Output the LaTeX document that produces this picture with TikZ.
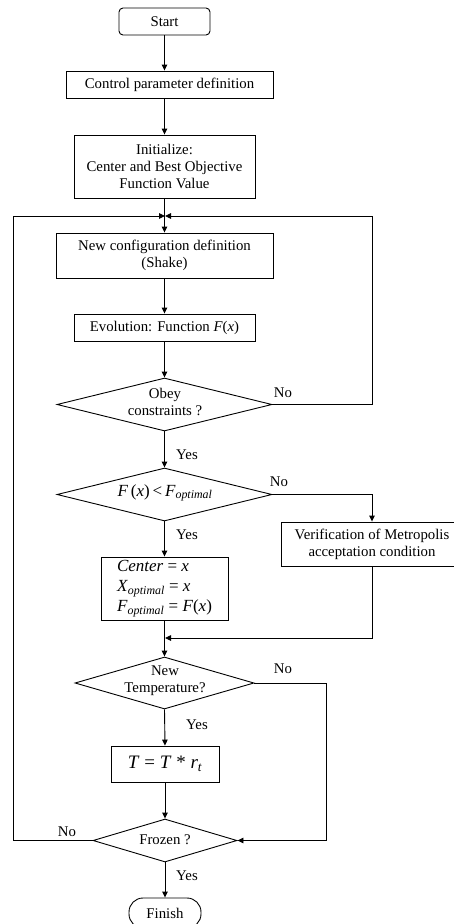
\documentclass[tikz,border=0pt]{standalone}
\usepackage{fontspec}
\setmainfont{Liberation Serif}
\usetikzlibrary{arrows.meta,shapes.geometric}
\begin{document}
\begin{tikzpicture}[x=1pt,y=-1pt,
  font=\fontsize{14.8}{17}\selectfont,
  line width=0.9pt,
  box/.style={draw, rectangle, inner sep=0pt, align=center},
  dia/.style={draw, diamond, inner sep=0pt},
  txt/.style={inner sep=0pt, align=center},
  lab/.style={inner sep=0pt},
  arr/.style={-{Triangle[length=6pt,width=5.5pt]}},
  mth/.style={font=\fontsize{17}{20}\selectfont},
]
\useasboundingbox (0,0) rectangle (453,924);
% nodes
\node[box, rounded corners=4pt, minimum width=91pt, minimum height=27pt] (start) at (164.5,21.5) {Start};
\node[box, minimum width=207pt, minimum height=27pt] (ctrl) at (169.5,84.5) {Control parameter definition};
\node[box, minimum width=181pt, minimum height=63pt] (init) at (164.5,166.5) {Initialize:\\Center and Best Objective\\Function Value};
\coordinate (j1) at (165,216);
\coordinate (lt) at (13,216);
\coordinate (rt) at (372,216);
\node[box, minimum width=217pt, minimum height=45pt] (conf) at (164.5,255.5) {New configuration definition\\(Shake)};
\node[box, minimum width=181pt, minimum height=27pt] (evo) at (164.5,327.5) {Evolution: Function \textit{F}(\textit{x})};
\node[dia, minimum width=215pt, minimum height=53pt] (obey) at (164.5,404.5) {};
\node[txt] (obeyt) at (165,402) {Obey\\constraints ?};
\node[dia, minimum width=215pt, minimum height=53pt] (fdia) at (164.5,494.5) {};
\node[txt, mth] (fdiat) at (165,493) {\textit{F}\,(\textit{x})\,<\,\textit{F}\textsubscript{\itshape optimal}};
\node[box, minimum width=182pt, minimum height=44pt] (verif) at (372,544) {Verification of Metropolis\\acceptation condition};
\node[box, mth, align=left, minimum width=127pt, minimum height=63pt] (cbox) at (164.5,588.5) {\textit{Center} = \textit{x}\\\textit{X}\textsubscript{\itshape optimal} = \textit{x}\\\textit{F}\textsubscript{\itshape optimal} = \textit{F}(\textit{x})};
\coordinate (j2) at (165,638);
\node[dia, minimum width=179pt, minimum height=52pt] (nt) at (164.5,683) {};
\node[txt] (ntt) at (165,681) {New\\Temperature?};
\coordinate (nr) at (326,683);
\node[box, minimum width=108pt, minimum height=36pt, font=\fontsize{19}{22}\selectfont] (tbox) at (165,764) {\textit{T} = \textit{T} * \textit{r\textsubscript{t}}};
\node[dia, minimum width=144pt, minimum height=43pt] (frozen) at (165,840.5) {};
\node[txt] (frozent) at (165,840) {Frozen ?};
\node[box, rounded corners=14pt, minimum width=72pt, minimum height=30pt] (finish) at (165,913) {Finish};
% labels
\node[lab] (l1) at (283,393) {No};
\node[lab] (l2) at (187,455) {Yes};
\node[lab] (l3) at (279,482) {No};
\node[lab] (l4) at (187,535) {Yes};
\node[lab] (l5) at (283,669) {No};
\node[lab] (l6) at (197,725) {Yes};
\node[lab] (l7) at (67,832) {No};
\node[lab] (l8) at (187,876) {Yes};
% connectors
\draw[arr] (start.south) -- (start.south |- ctrl.north);
\draw[arr] (start.south |- ctrl.south) -- (init.north);
\draw[arr] (init.south) -- (conf.north);
\draw[arr] (conf.south) -- (evo.north);
\draw[arr] (evo.south) -- (obey.north);
\draw[arr] (obey.east) -| (rt) -- (j1);
\draw[arr] (obey.south) -- (fdia.north);
\draw[arr] (fdia.east) -| (verif.north);
\draw[arr] (fdia.south) -- (cbox.north);
\draw[arr] (cbox.south) -- (nt.north);
\draw[arr] (verif.south) |- (j2);
\draw[arr] (nt.east) -- (nr) |- (frozen.east);
\draw[arr] (nt.south) -- (tbox.north);
\draw[arr] (tbox.south) -- (frozen.north);
\draw[arr] (frozen.west) -| (lt) -- (j1);
\draw[arr] (frozen.south) -- (finish.north);
\end{tikzpicture}
\end{document}
